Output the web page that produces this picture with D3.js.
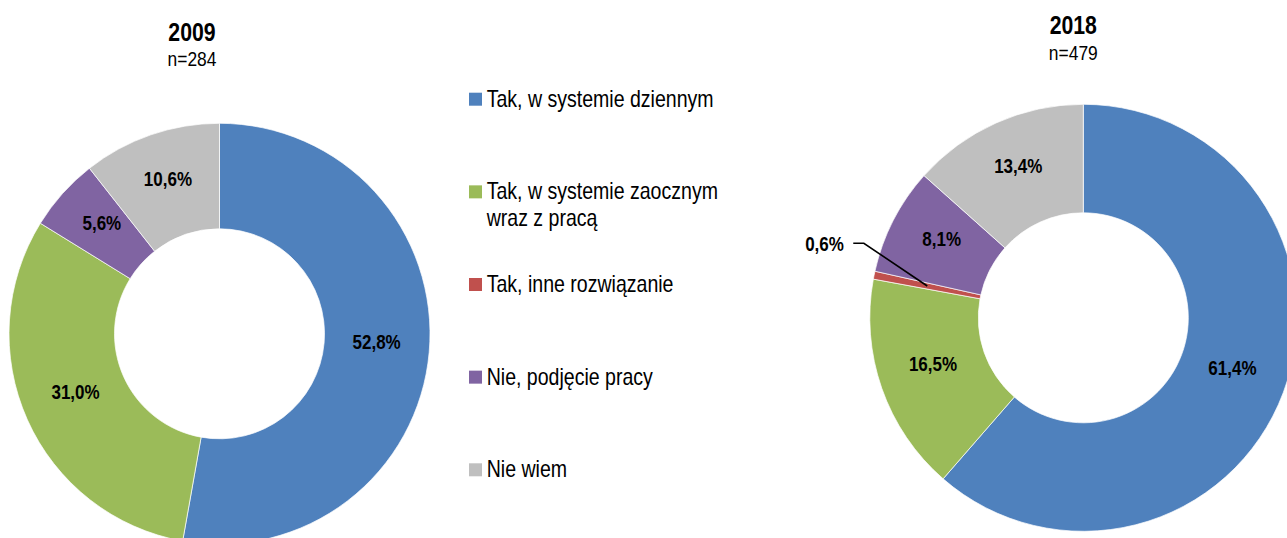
<!DOCTYPE html>
<html>
<head>
<meta charset="utf-8">
<script src="https://cdn.jsdelivr.net/npm/d3@7"></script>
<style>
  html, body { margin: 0; padding: 0; background: #fff; }
  svg { display: block; }
  text { font-family: "Liberation Sans", Arial, sans-serif; fill: #000; }
</style>
</head>
<body>
<svg id="chart" width="1287" height="538"></svg>
<script>
// ---- data ----
const categories = [
  "Tak, w systemie dziennym",
  "Tak, w systemie zaocznym wraz z pracą",
  "Tak, inne rozwiązanie",
  "Nie, podjęcie pracy",
  "Nie wiem"
];
const legendLines = [
  ["Tak, w systemie dziennym"],
  ["Tak, w systemie zaocznym", "wraz z pracą"],
  ["Tak, inne rozwiązanie"],
  ["Nie, podjęcie pracy"],
  ["Nie wiem"]
];
const values2009 = [52.8, 31.0, 0, 5.6, 10.6];
const values2018 = [61.4, 16.5, 0.6, 8.1, 13.4];
const titles = ["2009", "2018"];
const sampleSizes = ["n=284", "n=479"];
const colors = ["#4F81BD", "#9BBB59", "#C0504D", "#8064A2", "#BFBFBF"];

// ---- helpers ----
const SX = 0.85; // horizontal condensing to mimic a narrow face
function addText(parent, x, y, str, size, opts = {}) {
  const g = parent.append("g").attr("transform", `translate(${x},${y}) scale(${SX},1)`);
  const t = g.append("text")
    .attr("x", 0).attr("y", 0)
    .attr("font-size", size)
    .attr("text-anchor", opts.anchor || "start")
    .attr("font-weight", opts.bold ? "bold" : "normal");
  if (str !== null) t.text(str);
  return t;
}

// ---- layout ----
const svg = d3.select("#chart");
const color = d3.scaleOrdinal().domain(categories).range(colors);
const fmt = v => d3.format(".1f")(v).replace(".", ",") + "%";

const charts = [
  { values: values2009, title: titles[0], n: sampleSizes[0], cx: 219.5, cy: 333.8, R: 210.5, r: 105, tx: 192, ty: 41, ny: 66 },
  { values: values2018, title: titles[1], n: sampleSizes[1], cx: 1083.3, cy: 317.8, R: 213.5, r: 105, tx: 1073.3, ty: 34, ny: 60 }
];

const pie = d3.pie().sort(null).value(d => d.value).startAngle(0).endAngle(2 * Math.PI);

charts.forEach(c => {
  const data = categories.map((k, i) => ({ key: k, value: c.values[i] }));
  const arcs = pie(data);
  const arc = d3.arc().innerRadius(c.r).outerRadius(c.R);
  const mid = d3.arc().innerRadius((c.r + c.R) / 2).outerRadius((c.r + c.R) / 2);
  const g = svg.append("g").attr("transform", `translate(${c.cx},${c.cy})`);

  g.selectAll("path.slice")
    .data(arcs.filter(d => d.data.value > 0))
    .join("path")
    .attr("class", "slice")
    .attr("d", arc)
    .attr("fill", d => color(d.data.key))
    .attr("stroke", "#fff")
    .attr("stroke-width", 0.7);

  // inside labels
  arcs.filter(d => d.data.value >= 1).forEach(d => {
    const [x, y] = mid.centroid(d);
    addText(g, x, y + 1, fmt(d.data.value), 20, { anchor: "middle", bold: true });
  });

  // small slice labels with leader line
  arcs.filter(d => d.data.value > 0 && d.data.value < 1).forEach(d => {
    const [px, py] = mid.centroid(d);
    const ex = px - 63.4, ey = py - 42.7;
    g.append("polyline")
      .attr("points", [[px, py], [ex, ey], [ex - 10.6, ey]].map(p => p.join(",")).join(" "))
      .attr("fill", "none")
      .attr("stroke", "#000")
      .attr("stroke-width", 1.6);
    addText(g, ex - 20, ey + 8, fmt(d.data.value), 20, { anchor: "end", bold: true });
  });

  // titles
  addText(svg, c.tx, c.ty, c.title, 25, { anchor: "middle", bold: true });
  addText(svg, c.tx, c.ny, c.n, 20.5, { anchor: "middle" });
});

// ---- legend ----
const legendY = d3.scalePoint().domain(categories).range([92.7, 463.3]);
const leg = svg.append("g");
const items = leg.selectAll("g.item")
  .data(categories)
  .join("g")
  .attr("class", "item")
  .attr("transform", d => `translate(469,${legendY(d)})`);
items.append("rect")
  .attr("width", 13).attr("height", 13)
  .attr("fill", d => color(d));
items.each(function(d, i) {
  const t = addText(d3.select(this), 17.7, 14, null, 23);
  legendLines[i].forEach((line, j) => {
    t.append("tspan").attr("x", 0).attr("dy", j === 0 ? 0 : 27).text(line);
  });
});
</script>
</body>
</html>
